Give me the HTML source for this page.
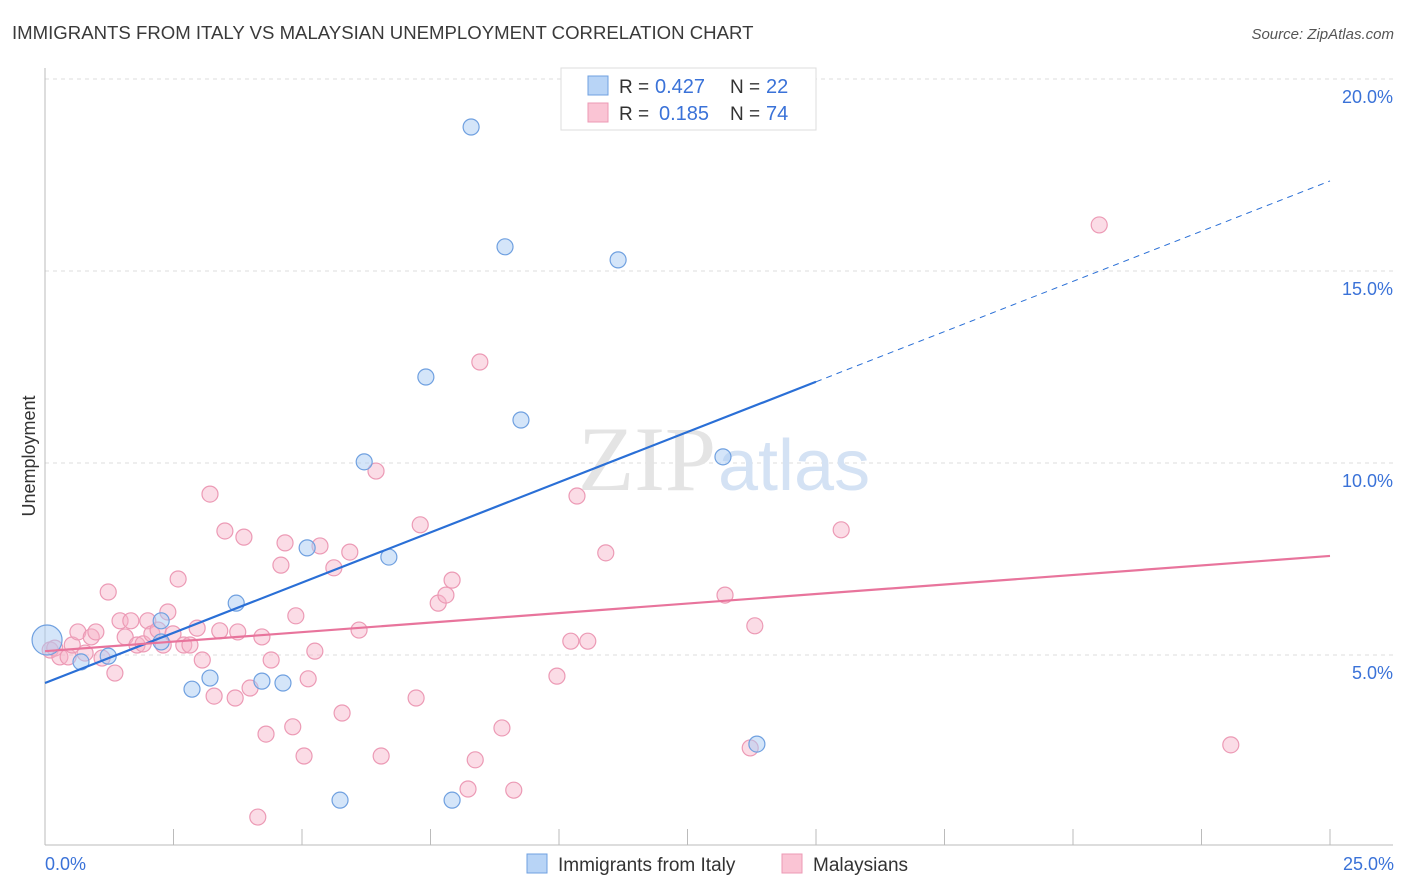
<!DOCTYPE html>
<html><head><meta charset="utf-8"><style>
body{margin:0;background:#fff;font-family:"Liberation Sans",sans-serif;}
svg{display:block}
</style></head><body>
<svg id="chart" width="1406" height="892" xmlns="http://www.w3.org/2000/svg">
<text x="12" y="39" font-size="18.6" fill="#3a3a3a">IMMIGRANTS FROM ITALY VS MALAYSIAN UNEMPLOYMENT CORRELATION CHART</text>
<text x="1394" y="39" font-size="15" font-style="italic" fill="#555" text-anchor="end">Source: ZipAtlas.com</text>
<g id="grid"></g>
<text x="716" y="490" font-size="92" font-family="Liberation Serif,serif" fill="#e4e4e4" text-anchor="end">ZIP</text>
<text x="718" y="490" font-size="72" fill="#d4e2f4">atlas</text>
<g id="marks"></g>
<text x="35" y="456" font-size="18" fill="#333" text-anchor="middle" transform="rotate(-90 35 456)">Unemployment</text>
<text x="45" y="870" font-size="18" fill="#3a72d8">0.0%</text>
<text x="1394" y="870" font-size="18" fill="#3a72d8" text-anchor="end">25.0%</text>
<g>
<rect x="561" y="68" width="255" height="62" fill="#fff" stroke="#ddd"/>
<rect x="588" y="76" width="20" height="19" fill="#b8d4f6" stroke="#6fa0e0"/>
<rect x="588" y="103" width="20" height="19" fill="#fac4d4" stroke="#ec9ab5"/>
<text x="619" y="93" font-size="19" fill="#333">R =</text>
<text x="655" y="93" font-size="20" fill="#3a72d8">0.427</text>
<text x="730" y="93" font-size="19" fill="#333">N =</text>
<text x="766" y="93" font-size="20" fill="#3a72d8">22</text>
<text x="619" y="120" font-size="19" fill="#333">R =</text>
<text x="659" y="120" font-size="20" fill="#3a72d8">0.185</text>
<text x="730" y="120" font-size="19" fill="#333">N =</text>
<text x="766" y="120" font-size="20" fill="#3a72d8">74</text>
</g>
<g>
<rect x="527" y="854" width="20" height="19" fill="#b8d4f6" stroke="#6fa0e0"/>
<text x="558" y="871" font-size="19" fill="#333">Immigrants from Italy</text>
<rect x="782" y="854" width="20" height="19" fill="#fac4d4" stroke="#ec9ab5"/>
<text x="813" y="871" font-size="19" fill="#333">Malaysians</text>
</g>
</svg>
<script>
const yTicks=[5,10,15,20];
const yTickLabels=["5.0%","10.0%","15.0%","20.0%"];
const xTicks=[0,2.5,5,7.5,10,12.5,15,17.5,20,22.5,25];
const italyX=[0.04,0.70,1.23,2.26,2.26,2.86,3.21,3.72,4.22,4.63,5.10,5.74,6.21,6.69,7.41,7.92,8.29,8.95,9.26,11.15,13.19,13.85];
const italyY=[5.39,4.82,4.97,5.34,5.89,4.11,4.40,6.35,4.32,4.27,7.79,1.22,10.03,7.55,12.24,1.22,18.75,15.63,11.12,15.29,10.16,2.68];
const malX=[0.10,0.19,0.29,0.45,0.53,0.64,0.78,0.90,0.99,1.11,1.23,1.36,1.46,1.56,1.67,1.79,1.91,2.00,2.08,2.20,2.30,2.39,2.49,2.59,2.70,2.82,2.96,3.06,3.21,3.29,3.40,3.50,3.70,3.75,3.87,3.99,4.14,4.22,4.30,4.40,4.59,4.67,4.82,4.88,5.04,5.12,5.25,5.35,5.62,5.78,5.93,6.11,6.44,6.54,7.22,7.30,7.65,7.80,7.92,8.23,8.37,8.46,8.89,9.12,9.96,10.23,10.35,10.56,10.91,13.23,13.72,13.81,15.49,20.51,23.07];
const malY=[5.13,5.18,4.95,4.95,5.26,5.60,5.05,5.47,5.60,4.92,6.64,4.53,5.89,5.47,5.89,5.26,5.29,5.89,5.55,5.65,5.26,6.12,5.55,6.98,5.26,5.26,5.70,4.87,9.19,3.93,5.63,8.23,3.88,5.60,8.07,4.14,0.78,5.47,2.94,4.87,7.34,7.92,3.13,6.02,2.37,4.38,5.10,7.84,7.27,3.49,7.68,5.65,9.79,2.37,3.88,8.39,6.35,6.56,6.95,1.51,2.27,12.63,3.10,1.48,4.45,5.36,9.14,5.36,7.66,6.56,2.58,5.76,8.26,16.20,2.66];
const italyTrend=[4.27,0.523];
const malTrend=[5.10,0.0992];
const X0=45,X1=1330,Y0=847,PXPER=38.4;
const sx=v=>X0+(v/25)*(X1-X0);
const sy=v=>Y0-v*PXPER;
const NS="http://www.w3.org/2000/svg";
function mk(t,a,p){const e=document.createElementNS(NS,t);for(const k in a)e.setAttribute(k,a[k]);p.appendChild(e);return e;}
const g=document.getElementById('grid'),m=document.getElementById('marks');
yTicks.forEach((v,i)=>{
 const l=mk('line',{x1:45,x2:1393,y1:sy(v),y2:sy(v),stroke:'#ddd','stroke-dasharray':'4,4'},g);
 
 
 const t=mk('text',{x:1393,y:sy(v)+24,'font-size':18,fill:'#3a72d8','text-anchor':'end'},g);
 t.textContent=yTickLabels[i];
 
 
});
const ax=mk('line',{x1:45,x2:1393,y1:845,y2:845,stroke:'#bbb'},g);


const ay=mk('line',{x1:45,x2:45,y1:68,y2:845,stroke:'#bbb'},g);


xTicks.forEach(v=>{
 const t=mk('line',{x1:sx(v),x2:sx(v),y1:829,y2:845,stroke:'#bbb'},g);
 
 
});
malX.forEach((x,i)=>{
 const c=mk('circle',{cx:sx(x),cy:sy(malY[i]),r:8,fill:'rgba(247,178,200,0.45)',stroke:'#ec9ab5','stroke-width':1.2},m);
 
 
});
italyX.forEach((x,i)=>{
 const c=mk('circle',{cx:sx(x),cy:sy(italyY[i]),r:i===0?15:8,fill:'rgba(170,204,244,0.5)',stroke:'#6fa0e0','stroke-width':1.2},m);
 
 
});
const bl=mk('line',{x1:sx(0),y1:sy(italyTrend[0]),x2:sx(15),y2:sy(italyTrend[0]+15*italyTrend[1]),stroke:'#2a6fd6','stroke-width':2.2},m);


const bd=mk('line',{x1:sx(15),y1:sy(italyTrend[0]+15*italyTrend[1]),x2:sx(25),y2:sy(italyTrend[0]+25*italyTrend[1]),stroke:'#2a6fd6','stroke-width':1,'stroke-dasharray':'6,5'},m);


const pl=mk('line',{x1:sx(0),y1:sy(malTrend[0]),x2:sx(25),y2:sy(malTrend[0]+25*malTrend[1]),stroke:'#e8749c','stroke-width':2.2},m);


</script>
</body></html>
